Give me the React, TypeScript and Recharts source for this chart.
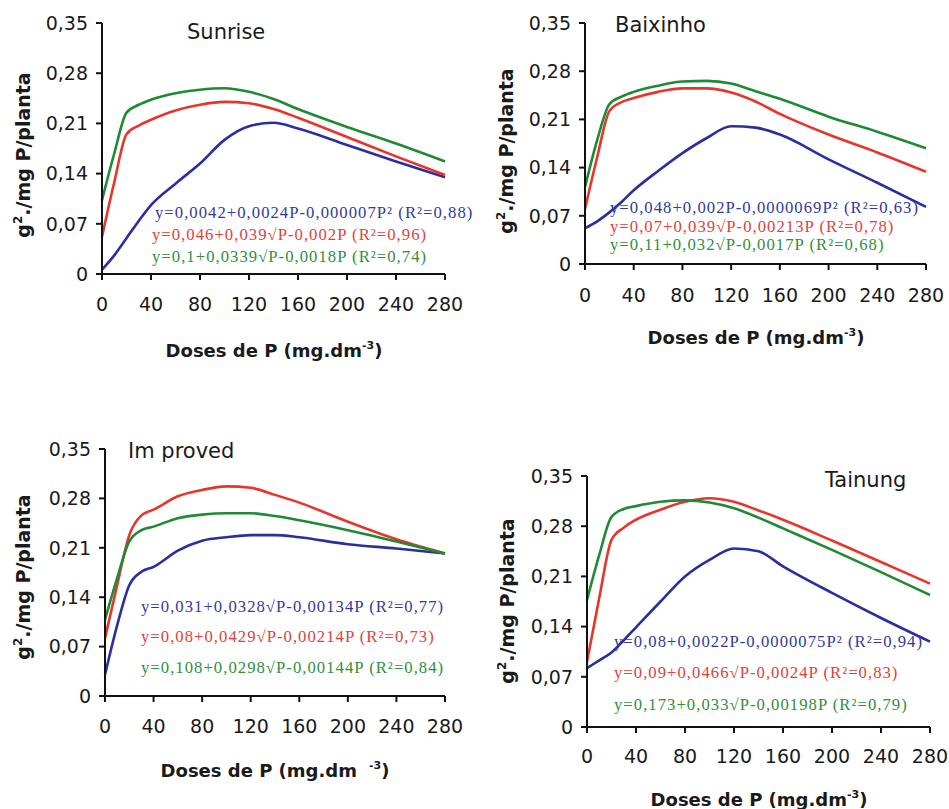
import { LineChart, Line, XAxis, YAxis, Label } from "recharts";

// Doses de P (mg.dm-3)
const doses = [0, 10, 20, 30, 40, 60, 80, 100, 120, 140, 160, 200, 240, 280];
const xTicks = [0, 40, 80, 120, 160, 200, 240, 280];
const yTicks = [0, 0.07, 0.14, 0.21, 0.28, 0.35];

// Sunrise
const sunriseBlue = [0.006, 0.026, 0.05, 0.074, 0.096, 0.126, 0.154, 0.187, 0.206, 0.211, 0.203, 0.18, 0.157, 0.135];
const sunriseRed = [0.052, 0.128, 0.195, 0.207, 0.215, 0.228, 0.236, 0.24, 0.238, 0.23, 0.218, 0.191, 0.164, 0.138];
const sunriseGreen = [0.103, 0.168, 0.225, 0.236, 0.243, 0.252, 0.257, 0.259, 0.254, 0.244, 0.23, 0.205, 0.182, 0.157];

// Baixinho
const baixinhoBlue = [0.052, 0.062, 0.075, 0.09, 0.107, 0.135, 0.161, 0.183, 0.2, 0.198, 0.188, 0.152, 0.118, 0.083];
const baixinhoRed = [0.08, 0.155, 0.222, 0.235, 0.241, 0.25, 0.255, 0.255, 0.249, 0.236, 0.218, 0.188, 0.162, 0.134];
const baixinhoGreen = [0.112, 0.18, 0.232, 0.243, 0.25, 0.259, 0.265, 0.266, 0.262, 0.251, 0.24, 0.214, 0.192, 0.168];

// Improved
const improvedBlue = [0.03, 0.1, 0.157, 0.176, 0.183, 0.206, 0.22, 0.225, 0.228, 0.228, 0.225, 0.215, 0.209, 0.202];
const improvedRed = [0.082, 0.157, 0.228, 0.256, 0.264, 0.283, 0.292, 0.297, 0.295, 0.285, 0.274, 0.247, 0.222, 0.202];
const improvedGreen = [0.108, 0.167, 0.219, 0.235, 0.24, 0.252, 0.257, 0.259, 0.259, 0.255, 0.249, 0.235, 0.219, 0.202];

// Tainung
const tainungBlue = [0.082, 0.093, 0.104, 0.121, 0.139, 0.175, 0.21, 0.233, 0.249, 0.245, 0.224, 0.187, 0.152, 0.119];
const tainungRed = [0.091, 0.18, 0.261, 0.278, 0.289, 0.303, 0.314, 0.319, 0.314, 0.302, 0.289, 0.26, 0.23, 0.2];
const tainungGreen = [0.177, 0.24, 0.293, 0.304, 0.308, 0.314, 0.316, 0.313, 0.305, 0.292, 0.277, 0.247, 0.216, 0.184];

const BLUE = "#2b2f9e";
const RED = "#e8352b";
const GREEN = "#1f8a35";
const INK = "#1a1a1a";

const build = (b: number[], r: number[], g: number[]) =>
  doses.map((d, i) => ({ dose: d, blue: b[i], red: r[i], green: g[i] }));

const fmtY = (v: number) => (v === 0 ? "0" : v.toFixed(2).replace(".", ","));

type Eq = { text: string; color: string; x: number; y: number };

type PanelProps = {
  left: number;
  top: number;
  width: number;
  height: number;
  mTop: number;
  mRight: number;
  yw: number;
  xh: number;
  tickGap: number;
  rows: ReturnType<typeof build>;
  title: string;
  titleX: number;
  titleY: number;
  xLab: { x: number; y: number; gap?: number };
  yLab: { x: number; y: number };
  eqs: Eq[];
};

function Panel(p: PanelProps) {
  const tickFont = { fontSize: 19, fill: INK, fontFamily: "DejaVu Sans" };
  const axisStyle = { stroke: "#111", strokeWidth: 2 };
  return (
    <>
      <div style={{ position: "absolute", left: p.left, top: p.top }}>
        <LineChart
          width={p.width}
          height={p.height}
          data={p.rows}
          margin={{ top: p.mTop, right: p.mRight, left: 0, bottom: 0 }}
        >
          <XAxis
            type="number"
            dataKey="dose"
            domain={[0, 280]}
            ticks={xTicks}
            interval={0}
            height={p.xh}
            tick={tickFont}
            tickSize={6}
            tickMargin={p.tickGap}
            axisLine={axisStyle}
            tickLine={axisStyle}
          >
            <Label
              content={() => (
                <text
                  x={p.xLab.x - p.left}
                  y={p.xLab.y - p.top}
                  textAnchor="middle"
                  fontFamily="DejaVu Sans"
                  fontWeight="bold"
                  fontSize={18}
                  fill={INK}
                >
                  <tspan>Doses de P (mg.dm</tspan>
                  <tspan dx={p.xLab.gap ?? 0} dy={-8} fontSize={11}>-3</tspan>
                  <tspan dy={8}>)</tspan>
                </text>
              )}
            />
          </XAxis>
          <YAxis
            type="number"
            domain={[0, 0.35]}
            ticks={yTicks}
            interval={0}
            width={p.yw}
            tick={tickFont}
            tickSize={6}
            tickMargin={8}
            tickFormatter={fmtY}
            axisLine={axisStyle}
            tickLine={axisStyle}
          >
            <Label
              content={() => (
                <text
                  x={p.yLab.x - p.left}
                  y={p.yLab.y - p.top}
                  textAnchor="middle"
                  transform={`rotate(-90, ${p.yLab.x - p.left}, ${p.yLab.y - p.top})`}
                  fontFamily="DejaVu Sans"
                  fontWeight="bold"
                  fontSize={19}
                  fill={INK}
                >
                  <tspan>g</tspan>
                  <tspan dy={-8} fontSize={12}>2</tspan>
                  <tspan dy={8}>./mg P/planta</tspan>
                </text>
              )}
            />
          </YAxis>
          <Line type="monotone" dataKey="blue" stroke={BLUE} strokeWidth={2.6} dot={false} isAnimationActive={false} />
          <Line type="monotone" dataKey="red" stroke={RED} strokeWidth={2.6} dot={false} isAnimationActive={false} />
          <Line type="monotone" dataKey="green" stroke={GREEN} strokeWidth={2.6} dot={false} isAnimationActive={false} />
        </LineChart>
      </div>
      <div
        style={{
          position: "absolute",
          left: p.titleX,
          top: p.titleY,
          fontFamily: "DejaVu Sans",
          fontSize: 21,
          lineHeight: "21px",
          color: INK,
          whiteSpace: "pre",
        }}
      >
        {p.title}
      </div>
      {p.eqs.map((e) => (
        <div
          key={e.text}
          style={{
            position: "absolute",
            left: e.x,
            top: e.y - 8,
            fontFamily: "Liberation Serif",
            fontSize: 16,
            lineHeight: "16px",
            letterSpacing: 1,
            color: e.color,
            whiteSpace: "pre",
            transform: "scaleX(1.04)",
            transformOrigin: "left center",
          }}
        >
          {e.text}
        </div>
      ))}
    </>
  );
}

export default function App() {
  return (
    <div style={{ position: "absolute", left: 0, top: 0, width: 949, height: 809, background: "#fff", overflow: "hidden" }}>
      <Panel
        left={0}
        top={0}
        width={470}
        height={370}
        mTop={23}
        mRight={25}
        yw={102}
        xh={96}
        tickGap={18}
        rows={build(sunriseBlue, sunriseRed, sunriseGreen)}
        title="Sunrise"
        titleX={187}
        titleY={22}
        xLab={{ x: 274, y: 357 }}
        yLab={{ x: 30, y: 155 }}
        eqs={[
          { text: "y=0,0042+0,0024P-0,000007P² (R²=0,88)", color: "#34399c", x: 155, y: 213 },
          { text: "y=0,046+0,039√P-0,002P (R²=0,96)", color: "#e2413a", x: 152, y: 235 },
          { text: "y=0,1+0,0339√P-0,0018P (R²=0,74)", color: "#2f8f3c", x: 152, y: 257 },
        ]}
      />
      <Panel
        left={482}
        top={0}
        width={467}
        height={360}
        mTop={23}
        mRight={23}
        yw={103}
        xh={96}
        tickGap={19}
        rows={build(baixinhoBlue, baixinhoRed, baixinhoGreen)}
        title="Baixinho"
        titleX={615}
        titleY={15}
        xLab={{ x: 756, y: 344 }}
        yLab={{ x: 513, y: 151 }}
        eqs={[
          { text: "y=0,048+0,002P-0,0000069P² (R²=0,63)", color: "#34399c", x: 610, y: 208 },
          { text: "y=0,07+0,039√P-0,00213P (R²=0,78)", color: "#e2413a", x: 610, y: 227 },
          { text: "y=0,11+0,032√P-0,0017P (R²=0,68)", color: "#2f8f3c", x: 610, y: 245 },
        ]}
      />
      <Panel
        left={0}
        top={420}
        width={470}
        height={372}
        mTop={29}
        mRight={25}
        yw={105}
        xh={96}
        tickGap={18}
        rows={build(improvedBlue, improvedRed, improvedGreen)}
        title="Im proved"
        titleX={128}
        titleY={441}
        xLab={{ x: 275, y: 777, gap: 12 }}
        yLab={{ x: 30, y: 577 }}
        eqs={[
          { text: "y=0,031+0,0328√P-0,00134P (R²=0,77)", color: "#34399c", x: 141, y: 607 },
          { text: "y=0,08+0,0429√P-0,00214P (R²=0,73)", color: "#e2413a", x: 141, y: 637 },
          { text: "y=0,108+0,0298√P-0,00144P (R²=0,84)", color: "#2f8f3c", x: 141, y: 668 },
        ]}
      />
      <Panel
        left={482}
        top={440}
        width={467}
        height={369}
        mTop={36}
        mRight={19}
        yw={105}
        xh={82}
        tickGap={17}
        rows={build(tainungBlue, tainungRed, tainungGreen)}
        title="Tainung"
        titleX={825}
        titleY={470}
        xLab={{ x: 759, y: 806 }}
        yLab={{ x: 514, y: 601 }}
        eqs={[
          { text: "y=0,08+0,0022P-0,0000075P² (R²=0,94)", color: "#34399c", x: 614, y: 642 },
          { text: "y=0,09+0,0466√P-0,0024P (R²=0,83)", color: "#e2413a", x: 614, y: 673 },
          { text: "y=0,173+0,033√P-0,00198P (R²=0,79)", color: "#2f8f3c", x: 614, y: 705 },
        ]}
      />
    </div>
  );
}
